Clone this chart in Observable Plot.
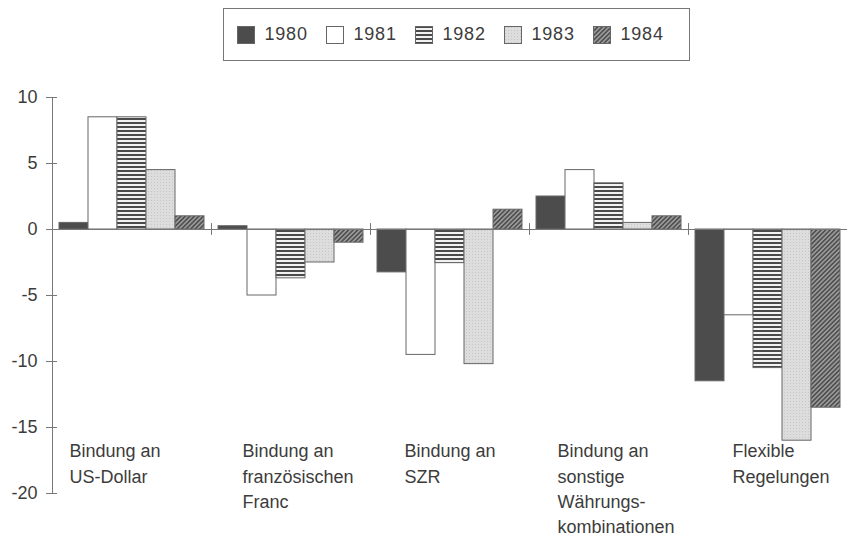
<!DOCTYPE html>
<html>
<head>
<meta charset="utf-8">
<script src="https://cdn.jsdelivr.net/npm/d3@7"></script>
<script src="https://cdn.jsdelivr.net/npm/@observablehq/plot@0.6"></script>
<style>
  body { margin: 0; background: #fff; font-family: "Liberation Sans", Arial, sans-serif; color: #3c3c3c; }
  #wrap { position: relative; width: 847px; height: 539px; overflow: hidden; }
  #legend { position: absolute; left: 223px; top: 8px; width: 452px; height: 51px;
            border: 1.5px solid #777; display: flex; align-items: center; padding-left: 12.5px; box-sizing: content-box; }
  #legend .item { display: flex; align-items: center; width: 89px; }
  #legend svg { margin-right: 10px; display: block; }
  #legend span { font-size: 18px; letter-spacing: 0.8px; color: #3c3c3c; }
  #chart { position: absolute; left: 0; top: 70px; }
</style>
</head>
<body>
<svg width="0" height="0" style="position:absolute">
  <defs>
    <pattern id="p1982" patternUnits="userSpaceOnUse" width="4" height="4">
      <rect width="4" height="4" fill="#f2f2f2"/>
      <rect width="4" height="2" fill="#4a4a4a"/>
    </pattern>
    <pattern id="p1983" patternUnits="userSpaceOnUse" width="3" height="3">
      <rect width="3" height="3" fill="#dddddd"/>
      <rect x="1" y="1" width="1" height="1" fill="#c6c6c6"/>
    </pattern>
    <pattern id="p1984" patternUnits="userSpaceOnUse" width="3.2" height="3.2" patternTransform="rotate(45)">
      <rect width="3.2" height="3.2" fill="#9a9a9a"/>
      <rect width="1.6" height="3.2" fill="#505050"/>
    </pattern>
  </defs>
</svg>
<div id="wrap">
  <div id="legend"></div>
  <div id="chart"></div>
</div>
<script>
// ---- data ----
const groups = [
  "Bindung an\nUS-Dollar",
  "Bindung an\nfranzösischen\nFranc",
  "Bindung an\nSZR",
  "Bindung an\nsonstige\nWährungs-\nkombinationen",
  "Flexible\nRegelungen"
];
const years = ["1980", "1981", "1982", "1983", "1984"];
const v1980 = [0.5, 0.25, -3.25, 2.5, -11.5];
const v1981 = [8.5, -5.0, -9.5, 4.5, -6.5];
const v1982 = [8.5, -3.7, -2.55, 3.5, -10.5];
const v1983 = [4.5, -2.5, -10.2, 0.5, -16.0];
const v1984 = [1.0, -1.0, 1.5, 1.0, -13.5];
const yTicks = [-20, -15, -10, -5, 0, 5, 10];

// ---- styling / layout ----
const yearFills = ["#4c4c4c", "#ffffff", "url(#p1982)", "url(#p1983)", "url(#p1984)"];
const labelOffsets = [17, 31, 34, 28, 44];
const lineColor = "#777";
const textColor = "#3c3c3c";

const series = [v1980, v1981, v1982, v1983, v1984];
const data = years.flatMap((yr, j) => groups.map((g, i) => ({group: g, year: yr, value: series[j][i]})));

// legend
const legend = d3.select("#legend");
years.forEach((yr, j) => {
  const item = legend.append("div").attr("class", "item");
  const s = item.append("svg").attr("width", 18).attr("height", 18);
  s.append("rect").attr("x", 0.5).attr("y", 0.5).attr("width", 17).attr("height", 17)
    .attr("fill", yearFills[j]).attr("stroke", "#666").attr("stroke-width", 1);
  item.append("span").text(yr);
});

const W = 847, ML = 52, MR = 0;
const step = (W - ML - MR) / groups.length;

const chart = Plot.plot({
  width: W,
  height: 469,
  marginTop: 27,
  marginBottom: 46,
  marginLeft: ML,
  marginRight: MR,
  style: {fontFamily: '"Liberation Sans", Arial, sans-serif', color: textColor, background: "transparent", overflow: "visible"},
  fx: {domain: groups, padding: 0, axis: null},
  x: {domain: years, padding: 0, insetLeft: 5, insetRight: 6, axis: null},
  y: {domain: [-20, 10], label: null},
  color: {domain: years, range: yearFills},
  marks: [
    Plot.barY(data, {fx: "group", x: "year", y: "value", fill: "year", stroke: "#666", strokeWidth: 1}),
    Plot.ruleY([0], {stroke: lineColor, strokeWidth: 1}),
    Plot.ruleX(groups.slice(0, -1), {fx: d => d, x: null, y1: -0.45, y2: 0.45, dx: step / 2, stroke: lineColor, strokeWidth: 1}),
    Plot.ruleX([groups[0]], {fx: d => d, x: null, y1: -20, y2: 10, dx: -step / 2, stroke: lineColor, strokeWidth: 1}),
    Plot.axisY(yTicks, {tickSize: 11, dx: 5, tickFormat: () => "", stroke: lineColor, label: null}),
    Plot.axisY(yTicks, {tickSize: 0, tickPadding: 15, tickFormat: d => String(d), fontSize: 18, fill: textColor, label: null}),
    ...groups.map((g, i) => Plot.text([g], {
      fx: d => d, x: null, y: null, text: d => d,
      frameAnchor: "bottom-left", textAnchor: "start", lineAnchor: "top",
      dx: labelOffsets[i], dy: -54, fontSize: 18, lineHeight: 1.4, fill: textColor,
      letterSpacing: 0.3
    }))
  ]
});
document.getElementById("chart").appendChild(chart);
</script>
</body>
</html>
